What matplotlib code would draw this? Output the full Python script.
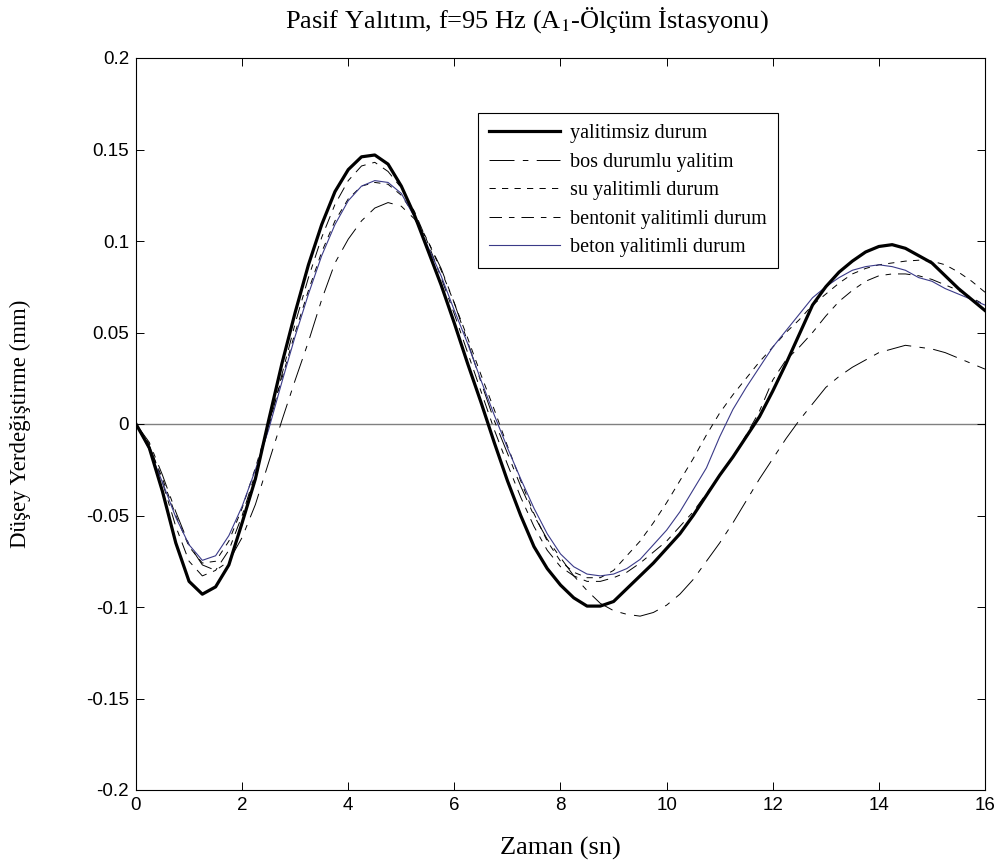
import numpy as np
import matplotlib
matplotlib.use("Agg")
import matplotlib.pyplot as plt

plt.rcParams['lines.scale_dashes'] = False
plt.rcParams['mathtext.fontset'] = 'stix'

# ---- data ----
t = [0.0, 0.25, 0.5, 0.75, 1.0, 1.25, 1.5, 1.75, 2.0, 2.25, 2.5, 2.75, 3.0, 3.25, 3.5, 3.75,
     4.0, 4.25, 4.5, 4.75, 5.0, 5.25, 5.5, 5.75, 6.0, 6.25, 6.5, 6.75, 7.0, 7.25, 7.5, 7.75,
     8.0, 8.25, 8.5, 8.75, 9.0, 9.25, 9.5, 9.75, 10.0, 10.25, 10.5, 10.75, 11.0, 11.25, 11.5, 11.75,
     12.0, 12.25, 12.5, 12.75, 13.0, 13.25, 13.5, 13.75, 14.0, 14.25, 14.5, 14.75, 15.0, 15.25, 15.5, 15.75, 16.0]

yalitimsiz = [0.0, -0.013, -0.037, -0.065, -0.086, -0.093, -0.089, -0.077, -0.054, -0.030, 0.002, 0.033, 0.061, 0.087, 0.109, 0.127,
              0.139, 0.146, 0.147, 0.142, 0.130, 0.114, 0.095, 0.076, 0.055, 0.033, 0.012, -0.010, -0.031, -0.050, -0.067, -0.079,
              -0.088, -0.095, -0.0995, -0.0995, -0.097, -0.090, -0.083, -0.076, -0.068, -0.060, -0.050, -0.039, -0.028, -0.018, -0.007, 0.004,
              0.018, 0.033, 0.049, 0.065, 0.075, 0.083, 0.089, 0.094, 0.097, 0.098, 0.096, 0.092, 0.088, 0.081, 0.074, 0.068, 0.062]

bos = [0.0, -0.010, -0.028, -0.048, -0.066, -0.077, -0.080, -0.075, -0.062, -0.044, -0.021, 0.002, 0.024, 0.045, 0.068, 0.088,
       0.101, 0.111, 0.118, 0.121, 0.119, 0.112, 0.100, 0.085, 0.066, 0.045, 0.023, 0.002, -0.016, -0.034, -0.050, -0.063,
       -0.073, -0.083, -0.091, -0.098, -0.102, -0.104, -0.105, -0.103, -0.099, -0.093, -0.085, -0.075, -0.065, -0.054, -0.042, -0.030,
       -0.019, -0.008, 0.002, 0.011, 0.020, 0.026, 0.031, 0.035, 0.039, 0.041, 0.043, 0.042, 0.041, 0.039, 0.036, 0.033, 0.030]

su = [0.0, -0.012, -0.030, -0.050, -0.067, -0.076, -0.075, -0.064, -0.046, -0.024, 0.000, 0.025, 0.050, 0.073, 0.094, 0.111,
      0.123, 0.130, 0.132, 0.131, 0.125, 0.114, 0.100, 0.084, 0.066, 0.047, 0.027, 0.008, -0.012, -0.031, -0.049, -0.064,
      -0.075, -0.081, -0.084, -0.084, -0.080, -0.072, -0.064, -0.054, -0.043, -0.031, -0.019, -0.006, 0.006, 0.016, 0.025, 0.034,
      0.042, 0.050, 0.057, 0.065, 0.071, 0.077, 0.082, 0.085, 0.087, 0.088, 0.089, 0.0895, 0.089, 0.087, 0.083, 0.078, 0.072]

bentonit = [0.0, -0.011, -0.032, -0.056, -0.075, -0.083, -0.080, -0.069, -0.050, -0.027, -0.002, 0.027, 0.055, 0.080, 0.102, 0.120,
            0.133, 0.141, 0.143, 0.138, 0.129, 0.116, 0.099, 0.080, 0.060, 0.039, 0.018, -0.003, -0.022, -0.040, -0.056, -0.069,
            -0.078, -0.083, -0.086, -0.086, -0.084, -0.081, -0.076, -0.070, -0.064, -0.056, -0.048, -0.038, -0.028, -0.018, -0.006, 0.007,
            0.024, 0.035, 0.042, 0.050, 0.059, 0.067, 0.073, 0.078, 0.081, 0.082, 0.082, 0.081, 0.079, 0.076, 0.073, 0.069, 0.065]

beton = [0.0, -0.014, -0.032, -0.051, -0.066, -0.0745, -0.072, -0.061, -0.045, -0.025, -0.003, 0.023, 0.048, 0.071, 0.092, 0.109,
         0.122, 0.130, 0.133, 0.132, 0.126, 0.113, 0.097, 0.081, 0.062, 0.044, 0.024, 0.005, -0.013, -0.030, -0.046, -0.060,
         -0.071, -0.078, -0.082, -0.083, -0.082, -0.079, -0.074, -0.066, -0.058, -0.048, -0.036, -0.024, -0.007, 0.008, 0.020, 0.031,
         0.042, 0.051, 0.060, 0.069, 0.075, 0.080, 0.084, 0.086, 0.087, 0.086, 0.084, 0.080, 0.078, 0.074, 0.071, 0.068, 0.065]

labels = ["yalitimsiz durum", "bos durumlu yalitim", "su yalitimli durum",
          "bentonit yalitimli durum", "beton yalitimli durum"]
xticks = [0, 2, 4, 6, 8, 10, 12, 14, 16]
yticks = [-0.2, -0.15, -0.1, -0.05, 0, 0.05, 0.1, 0.15, 0.2]
ytick_labels = ["-0.2", "-0.15", "-0.1", "-0.05", "0", "0.05", "0.1", "0.15", "0.2"]

# ---- figure ----
W, H = 1004, 868
fig = plt.figure(figsize=(W / 100, H / 100), dpi=100)
ax = fig.add_axes([136 / W, 1 - 790 / H, (985 - 136) / W, (790 - 58) / H])

serif = 'Liberation Serif'
sans = 'Liberation Sans'

ax.axhline(0, color='#808080', lw=1.0, zorder=1)

ax.plot(t, yalitimsiz, color='black', lw=2.3, label=labels[0], zorder=6)
ax.plot(t, bos, color='black', lw=0.7, ls=(0, (18, 6, 4, 6)), label=labels[1], zorder=3)
ax.plot(t, su, color='black', lw=0.7, ls=(0, (4.5, 4.5)), label=labels[2], zorder=3)
ax.plot(t, bentonit, color='black', lw=0.7, ls=(0, (9, 5, 4, 5)), label=labels[3], zorder=3)
ax.plot(t, beton, color='#3a3a88', lw=0.8, label=labels[4], zorder=4)

ax.set_xlim(0, 16)
ax.set_ylim(-0.2, 0.2)
ax.set_xticks(xticks)
ax.set_xticklabels([str(v) for v in xticks])
ax.set_yticks(yticks)
ax.set_yticklabels(ytick_labels)
ax.tick_params(direction='in', length=6, width=0.7, top=True, right=True,
               labelsize=13.5, pad=5)
for lab in ax.get_xticklabels() + ax.get_yticklabels():
    lab.set_family(sans)
for sp in ax.spines.values():
    sp.set_linewidth(0.8)

leg = ax.legend(loc='upper left', bbox_to_anchor=(0.403, 0.925), borderaxespad=0,
                prop={'family': serif, 'size': 14.5}, frameon=True, fancybox=False,
                edgecolor='black', framealpha=1, handlelength=3.5, handletextpad=0.5,
                labelspacing=0.47, borderpad=0.55)
leg.get_frame().set_linewidth(0.8)

fig.text(527 / W, 1 - 20 / H, "Pasif Yalıtım, f=95 Hz (A$_1$-Ölçüm İstasyonu)",
         ha='center', va='center', family=serif, fontsize=19)
fig.text(560 / W, 1 - 848 / H, "Zaman (sn)", ha='center', va='center',
         family=serif, fontsize=19)
fig.text(20 / W, 1 - 424 / H, "Düşey Yerdeğiştirme (mm)", ha='center', va='center',
         rotation=90, family=serif, fontsize=16.5)

fig.savefig("out.png", dpi=100)
